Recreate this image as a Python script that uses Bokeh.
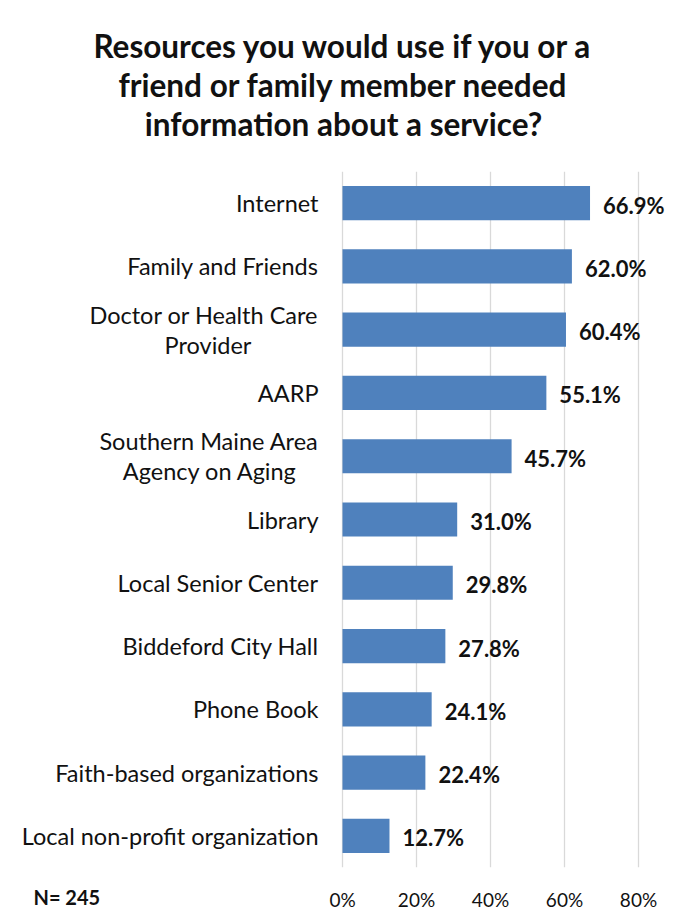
from bokeh.plotting import figure
from bokeh.models import (FactorRange, Range1d, FixedTicker, NumeralTickFormatter, Label,
                          ColumnDataSource)
from bokeh.embed import file_html
from bokeh.resources import INLINE
from bokeh.core.properties import value

# ---------------- data ----------------
title_lines = ["Resources you would use if you or a",
               "friend or family member needed",
               "information about a service?"]
categories = ["Internet", "Family and Friends", "Doctor or Health Care\nProvider", "AARP",
              "Southern Maine Area\nAgency on Aging", "Library", "Local Senior Center",
              "Biddeford City Hall", "Phone Book", "Faith-based organizations",
              "Local non-profit organization"]
percent_values = [66.9, 62.0, 60.4, 55.1, 45.7, 31.0, 29.8, 27.8, 24.1, 22.4, 12.7]
x_ticks = [0, 0.2, 0.4, 0.6, 0.8]
sample_note = "N= 245"

# ---------------- layout (pixels) ----------------
W, H = 679, 919
PLOT_LEFT = 342                 # x pixel of the 0 % line
RIGHT, TOP, BOTTOM = 8, 171, 52
PX = 370.0                      # pixels per 100 %
frame_h = H - TOP - BOTTOM
n = len(categories)
py = frame_h / n                # pixels per category band

FONT = "Lato"
BAR = "#4F81BD"
TXT = "#111111"
GRID = "#d9d9d9"

keys = [c.replace("\n", " ") for c in categories]
src = ColumnDataSource(dict(
    key=keys,
    val=[v / 100 for v in percent_values],
    lab=["%.1f%%" % v for v in percent_values],
))

p = figure(width=W, height=H, output_backend="svg", toolbar_location=None,
           y_range=FactorRange(factors=list(reversed(keys)), range_padding=0),
           x_range=Range1d(-PLOT_LEFT / PX, (W - RIGHT - PLOT_LEFT) / PX),
           y_axis_location=None, min_border_left=0, min_border_right=RIGHT,
           min_border_top=TOP, min_border_bottom=BOTTOM)
p.outline_line_color = None
p.background_fill_color = "white"
p.border_fill_color = "white"

p.hbar(y="key", right="val", height=0.54, source=src, fill_color=BAR, line_color=None)
p.text(x="val", y="key", text="lab", source=src, x_offset=13, y_offset=2,
       text_baseline="middle", text_align="left", text_font=value(FONT),
       text_font_style="bold", text_font_size="22px", text_color=TXT)

ticker = FixedTicker(ticks=x_ticks)
p.xaxis.ticker = ticker
p.xgrid.ticker = ticker
p.xgrid.grid_line_color = GRID
p.xgrid.grid_line_width = 1.3
p.ygrid.visible = False
p.xaxis.formatter = NumeralTickFormatter(format="0%")
p.xaxis.axis_line_color = None
p.xaxis.major_tick_line_color = None
p.xaxis.minor_tick_line_color = None
p.xaxis.major_tick_out = 0
p.xaxis.major_tick_in = 0
p.xaxis.major_label_standoff = 20
p.xaxis.major_label_text_font = FONT
p.xaxis.major_label_text_font_size = "19px"
p.xaxis.major_label_text_color = TXT

# ---------------- category labels ----------------
label_right = (318 - PLOT_LEFT) / PX
first_line_widths = {"Doctor or Health Care": 221, "Southern Maine Area": 217}
lx, ly, lt, la, lo = [], [], [], [], []
for k, c in zip(keys, categories):
    parts = c.split("\n")
    if len(parts) == 1:
        lx.append(label_right); ly.append(k); lt.append(parts[0]); la.append("right"); lo.append(0)
    else:
        w1 = first_line_widths.get(parts[0], 215)
        lx.append(label_right); ly.append(k); lt.append(parts[0]); la.append("right"); lo.append(-15)
        lx.append(label_right - (w1 / 2) / PX); ly.append(k); lt.append(parts[1]); la.append("center"); lo.append(15)
lab_src = ColumnDataSource(dict(x=lx, y=ly, text=lt, align=la, yoff=lo))
p.text(x="x", y="y", text="text", source=lab_src, text_align="align", y_offset="yoff",
       text_baseline="middle", text_font=value(FONT), text_font_size="23.5px", text_color=TXT)

# ---------------- title and sample size (above panel, placed in data units) ----------------
title_centers = [45, 84, 123]
x_center = (343 - PLOT_LEFT) / PX
for t, yc in zip(title_lines, title_centers):
    p.add_layout(Label(x=x_center, y=n + (TOP - yc) / py, text=t, text_align="center",
                       text_baseline="middle", text_font=FONT, text_font_style="bold",
                       text_font_size="31.5px", text_color=TXT), "above")

p.add_layout(Label(x=(33 - PLOT_LEFT) / PX, y=-(896 - (TOP + frame_h)) / py, text=sample_note,
                   text_align="left", text_baseline="middle", text_font=FONT,
                   text_font_style="bold", text_font_size="20px", text_color=TXT), "above")

open("out.html", "w").write(file_html(p, INLINE))
